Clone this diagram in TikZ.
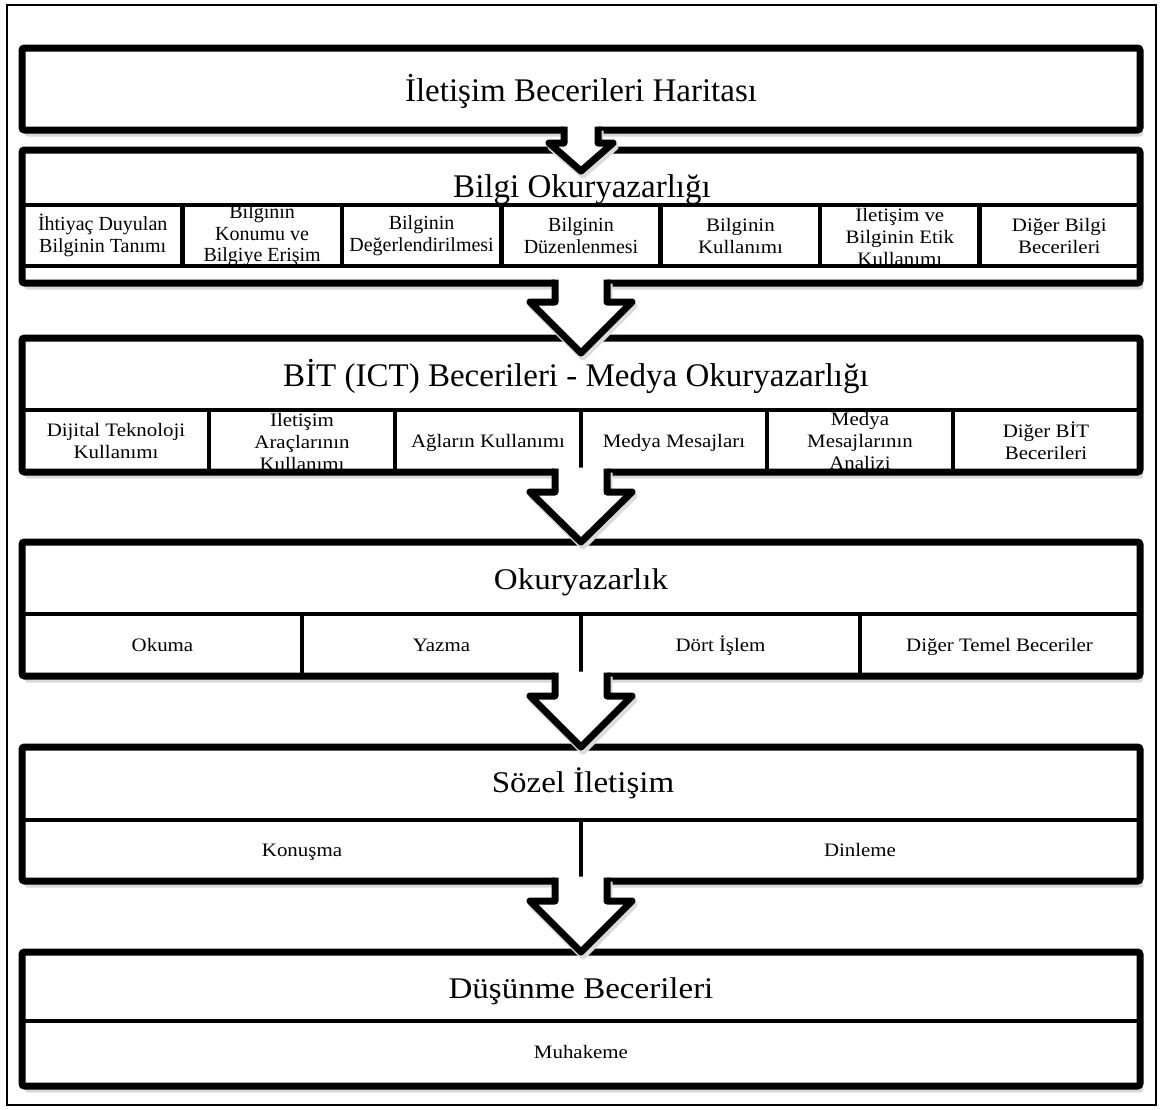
\documentclass[tikz,border=0pt]{standalone}
\usepackage{fontspec}
\setmainfont{Liberation Serif}
\newfontfamily\camb[FakeStretch=1.1]{Liberation Serif}
\usetikzlibrary{calc,shadows}

\tikzset{
  bigbox/.style={draw=black, line width=7pt, fill=white, rounded corners=2.5pt,
    inner sep=0pt, outer sep=0pt, minimum width=1118pt,
    drop shadow={shadow xshift=3pt, shadow yshift=-6.5pt, fill=black, opacity=0.15}},
  cellbox/.style={draw=black, line width=4.5pt, inner sep=0pt, outer sep=0pt},
  titletext/.style={inner sep=0pt, text height=22pt, text depth=0pt, font=\fontsize{33}{36}\selectfont},
  cambtitle/.style={inner sep=0pt, text height=20pt, text depth=0pt, font=\camb\fontsize{30}{33}\selectfont},
  celltext/.style={inner sep=0pt, align=center, font=\fontsize{20}{21.5}\selectfont},
  cambcell/.style={inner sep=0pt, align=center, font=\camb\fontsize{19}{22}\selectfont},
  cambone/.style={inner sep=0pt, text height=12.6pt, text depth=0pt, font=\camb\fontsize{19}{22}\selectfont},
  arrowline/.style={draw=black, line width=7pt, line join=round},
  arrowshadow/.style={draw=black!14, line width=7pt, line join=round},
}

% #1 upper node, #2 lower node, #3 shaft half width, #4 head half width,
% #5 shaft length, #6 tip offset below lower node's top
\newcommand{\blockarrow}[6]{%
  \coordinate (#1s) at ($(#1.south)+(0,#5)$);
  \coordinate (#1t) at ($(#2.north)+(0,#6)$);
  \coordinate (#1p1) at ($(#1.south)+(-#3,-3.5)$);
  \coordinate (#1p2) at ($(#1s)+(-#3,0)$);
  \coordinate (#1p3) at ($(#1s)+(-#4,0)$);
  \coordinate (#1p5) at ($(#1s)+(#4,0)$);
  \coordinate (#1p6) at ($(#1s)+(#3,0)$);
  \coordinate (#1p7) at ($(#1.south)+(#3,-3.5)$);
  \draw[arrowshadow, transform canvas={xshift=2pt, yshift=-4pt}]
    (#1p2) -- (#1p3) -- (#1t) -- (#1p5) -- (#1p6) -- (#1p7);
  \fill[white] ($(#1p1)+(0,-1)$) -- (#1p2) -- (#1p3) -- (#1t) -- (#1p5) -- (#1p6) -- ($(#1p7)+(0,-1)$) -- cycle;
  \draw[arrowline] (#1p1) -- (#1p2) -- (#1p3) -- (#1t) -- (#1p5) -- (#1p6) -- (#1p7);
}

\begin{document}
\begin{tikzpicture}[x=1pt,y=-1pt]
\useasboundingbox (0,0) rectangle (1162,1109);
\fill[white] (0,0) rectangle (1162,1109);
\draw[line width=2pt] (7,4.5) rectangle (1156,1105);

% main boxes
\node[bigbox, minimum height=82pt]  (b1) at (581,89) {};
\node[bigbox, minimum height=133pt] (b2) at (581,216.5) {};
\node[bigbox, minimum height=134pt] (b3) at (581,405) {};
\node[bigbox, minimum height=134pt] (b4) at (581,609) {};
\node[bigbox, minimum height=134pt] (b5) at (581,814) {};
\node[bigbox, minimum height=134pt] (b6) at (581,1019) {};

% cells
\foreach \k in {1,...,7}
  \node[cellbox, minimum width=159.43pt, minimum height=61pt] (c2\k) at ({23+159.43*(\k-0.5)},235.5) {};
\foreach \k in {1,...,6}
  \node[cellbox, minimum width=186pt, minimum height=62pt] (c3\k) at ({23+186*(\k-0.5)},441) {};
\foreach \k in {1,...,4}
  \node[cellbox, minimum width=279pt, minimum height=62pt] (c4\k) at ({23+279*(\k-0.5)},645) {};
\foreach \k in {1,2}
  \node[cellbox, minimum width=558pt, minimum height=61pt] (c5\k) at ({23+558*(\k-0.5)},850.5) {};
\node[cellbox, minimum width=1116pt, minimum height=65pt] (c61) at (581,1053.5) {};

% arrows
\blockarrow{b1}{b2}{17}{32}{13}{21}
\blockarrow{b2}{b3}{26}{51}{19}{15}
\blockarrow{b3}{b4}{26}{51}{20}{0}
\blockarrow{b4}{b5}{26}{51}{20}{0}
\blockarrow{b5}{b6}{26}{51}{20}{0}

% titles
\node[titletext] (t1) at (581,90) {İletişim Becerileri Haritası};
\node[titletext] (t2) at (582,186) {Bilgi Okuryazarlığı};
\node[titletext] (t3) at (576,375) {BİT (ICT) Becerileri - Medya Okuryazarlığı};
\node[cambtitle] (t4) at (581,579) {Okuryazarlık};
\node[cambtitle] (t5) at (583,782) {Sözel İletişim};
\node[cambtitle] (t6) at (581,988) {Düşünme Becerileri};

% cell texts
\node[celltext] (x21) at (c21) {İhtiyaç Duyulan\\Bilginin Tanımı};
\node[celltext] (x22) at (c22) {Bilginin\\Konumu ve\\Bilgiye Erişim};
\node[celltext] (x23) at (c23) {Bilginin\\Değerlendirilmesi};
\node[celltext] (x24) at (c24) {Bilginin\\Düzenlenmesi};
\node[cambcell] (x25) at (c25) {Bilginin\\Kullanımı};
\node[cambcell] (x26) at (c26) {İletişim ve\\Bilginin Etik\\Kullanımı};
\node[cambcell] (x27) at (c27) {Diğer Bilgi\\Becerileri};

\node[cambcell] (x31) at (c31) {Dijital Teknoloji\\Kullanımı};
\node[cambcell] (x32) at (c32) {İletişim\\Araçlarının\\Kullanımı};
\node[cambone] (x33) at (c33) {Ağların Kullanımı};
\node[cambone] (x34) at (c34) {Medya Mesajları};
\node[cambcell] (x35) at (c35) {Medya\\Mesajlarının\\Analizi};
\node[cambcell] (x36) at (c36) {Diğer BİT\\Becerileri};

\node[cambone] (x41) at (c41) {Okuma};
\node[cambone] (x42) at (c42) {Yazma};
\node[cambone] (x43) at (c43) {Dört İşlem};
\node[cambone] (x44) at (c44) {Diğer Temel Beceriler};

\node[cambone] (x51) at (c51) {Konuşma};
\node[cambone] (x52) at (c52) {Dinleme};

\node[cambone] (x61) at ($(c61)+(0,-1)$) {Muhakeme};
\end{tikzpicture}
\end{document}
